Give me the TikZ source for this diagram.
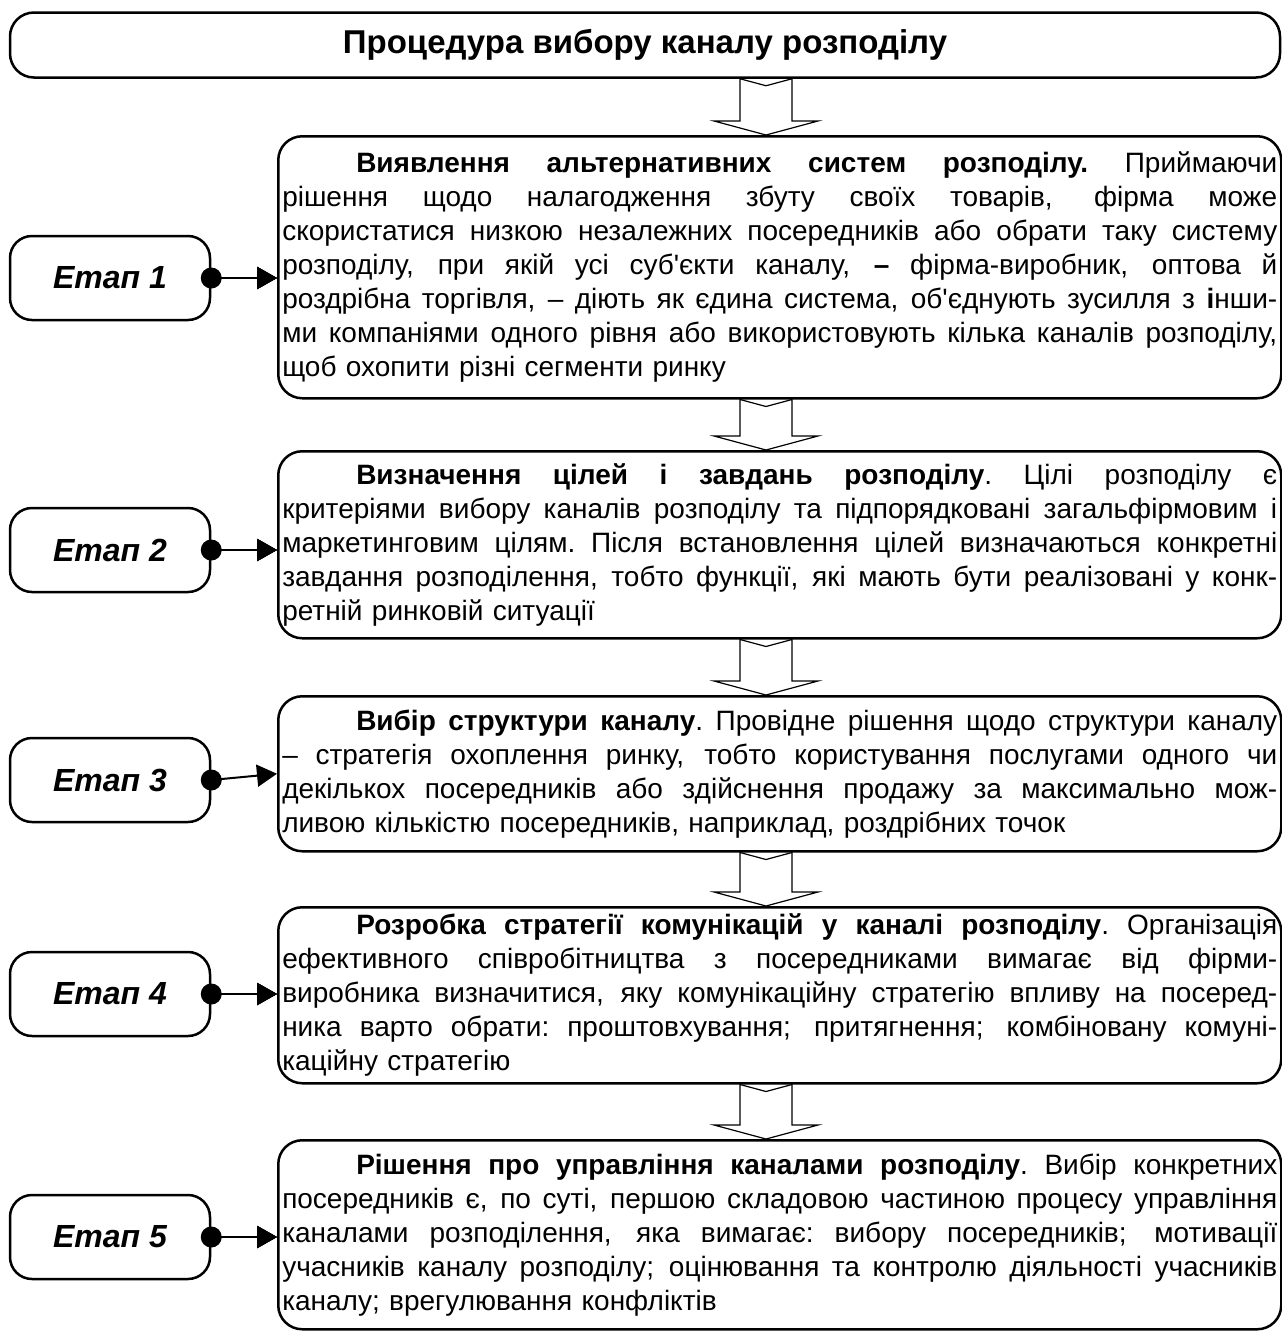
\documentclass[tikz,border=0pt]{standalone}
\usepackage{fontspec}
\setmainfont{Liberation Sans}
\usetikzlibrary{arrows.meta,calc,positioning}

% lines of a justified paragraph, broken by hand
\newcommand{\spread}{\spaceskip=0.28em plus 1fil\xspaceskip=\spaceskip}
\newcommand{\jfirst}[1]{\hbox to \hsize{\spread\hskip 74pt #1}}
\newcommand{\jline}[1]{\hbox to \hsize{\spread #1}}
\newcommand{\jlast}[1]{\hbox to \hsize{#1\hfill}}
% hollow block arrow between two boxes
\newcommand{\flowarrow}[2]{%
    \coordinate (top) at (#1.south -| axis);
    \coordinate (tip) at (#2.north -| axis);
    \draw[hollow] ($(top)+(-26,0)$) -- ($(top)+(0,-7)$) -- ($(top)+(26,0)$)
        -- ($(tip)+(26,14)$) -- ($(tip)+(52,14)$) -- (tip) -- ($(tip)+(-52,14)$)
        -- ($(tip)+(-26,14)$) -- cycle;
}

\begin{document}
\begin{tikzpicture}[x=1pt,y=1pt,
    box/.style={draw,line width=2.5pt,rounded corners=24pt},
    titlebox/.style={box,minimum width=1270pt,minimum height=65pt,
        font=\fontsize{33}{38}\selectfont\bfseries},
    stagebox/.style={box,rounded corners=22pt,minimum width=200pt,minimum height=84pt,
        font=\fontsize{32}{38}\selectfont\bfseries\itshape},
    textbox/.style={box,anchor=north west,inner xsep=4pt,inner ysep=0pt,
        text width=995pt,font=\fontsize{28}{34}\selectfont},
    hollow/.style={line width=1.2pt,line join=miter},
    link/.style={line width=2pt,-{Triangle[length=20pt,width=22pt]}}]
    \useasboundingbox (0,0) rectangle (1282,-1331);
    \coordinate (axis) at (766,0);
    % Title
        \node[titlebox] (title) at (645,-45) {Процедура вибору каналу розподілу};
    % Stage texts
        \node[textbox,minimum height=262pt] (b1) at (277,-135) {%
            \jfirst{\textbf{Виявлення альтернативних систем розподілу.} Приймаючи}
            \jline{рішення щодо налагодження збуту своїх товарів, фірма може}
            \jline{скористатися низкою незалежних посередників або обрати таку систему}
            \jline{розподілу, при якій усі суб\textquotesingle єкти каналу, \textbf{–} фірма-виробник, оптова й}
            \jline{роздрібна торгівля, – діють як єдина система, об\textquotesingle єднують зусилля з \textbf{і}нши-}
            \jline{ми компаніями одного рівня або використовують кілька каналів розподілу,}
            \jlast{щоб охопити різні сегменти ринку}};
        \node[textbox,minimum height=187pt] (b2) at (277,-450) {%
            \jfirst{\textbf{Визначення цілей і завдань розподілу}. Цілі розподілу є}
            \jline{критеріями вибору каналів розподілу та підпорядковані загальфірмовим і}
            \jline{маркетинговим цілям. Після встановлення цілей визначаються конкретні}
            \jline{завдання розподілення, тобто функції, які мають бути реалізовані у конк-}
            \jlast{ретній ринковій ситуації}};
        \node[textbox,minimum height=155pt] (b3) at (277,-695) {%
            \jfirst{\textbf{Вибір структури каналу}. Провідне рішення щодо структури каналу}
            \jline{– стратегія охоплення ринку, тобто користування послугами одного чи}
            \jline{декількох посередників або здійснення продажу за максимально мож-}
            \jlast{ливою кількістю посередників, наприклад, роздрібних точок}};
        \node[textbox,minimum height=176pt] (b4) at (277,-906) {%
            \jfirst{\textbf{Розробка стратегії комунікацій у каналі розподілу}. Організація}
            \jline{ефективного співробітництва з посередниками вимагає від фірми-}
            \jline{виробника визначитися, яку комунікаційну стратегію впливу на посеред-}
            \jline{ника варто обрати: проштовхування; притягнення; комбіновану комуні-}
            \jlast{каційну стратегію}};
        \node[textbox,minimum height=189pt] (b5) at (277,-1139) {%
            \jfirst{\textbf{Рішення про управління каналами розподілу}. Вибір конкретних}
            \jline{посередників є, по суті, першою складовою частиною процесу управління}
            \jline{каналами розподілення, яка вимагає: вибору посередників; мотивації}
            \jline{учасників каналу розподілу; оцінювання та контролю діяльності учасників}
            \jlast{каналу; врегулювання конфліктів}};
    % Stages
        \foreach \i/\y in {1/278,2/550,3/780,4/994,5/1237}
            \node[stagebox] (e\i) at (110,-\y) {Етап \i};
    % Arrows down the procedure
        \flowarrow{title}{b1}
        \foreach \i [evaluate=\i as \j using int(\i+1)] in {1,...,4}
            \flowarrow{b\i}{b\j}
    % Stage links
        \foreach \i in {1,2,4,5}
            \draw[link] (e\i.east) -- (e\i.east -| b\i.west);
        \draw[link] (e3.east) -- (b3.west);
        \foreach \i in {1,...,5}
            \fill (e\i.east) circle (10.5pt);
\end{tikzpicture}
\end{document}
